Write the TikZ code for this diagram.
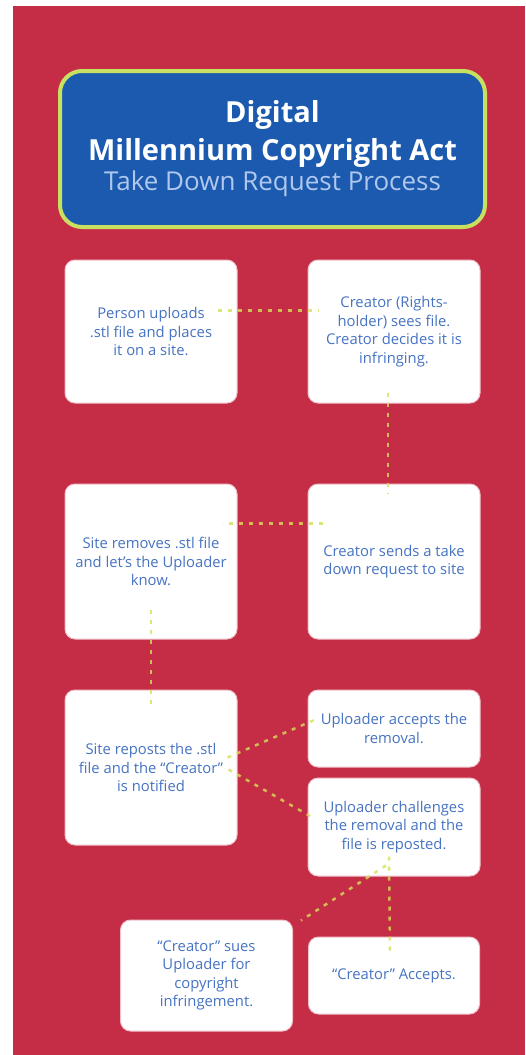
\documentclass[tikz,border=0pt]{standalone}
\usepackage{fontspec}
\setmainfont{Open Sans}
\usetikzlibrary{positioning}
\definecolor{pagered}{RGB}{197,45,70}
\definecolor{titleblue}{RGB}{27,90,174}
\definecolor{titlerim}{RGB}{200,224,96}
\definecolor{titlesub}{RGB}{176,200,238}
\definecolor{linkcolor}{RGB}{212,225,87}
\definecolor{textblue}{RGB}{70,115,195}

\begin{document}
\begin{tikzpicture}[
    x=1pt, y=-1pt,
    stepbox/.style={rectangle, rounded corners=10pt, fill=white, draw=white!70!pagered, line width=1pt,
        minimum width=172pt, align=center, text=textblue, font=\fontsize{14.8}{18.5}\selectfont, inner sep=3pt},
    titlebox/.style={rectangle, rounded corners=22pt, fill=titleblue, draw=titlerim, line width=4pt,
        minimum width=425pt, minimum height=156pt, align=center, text=white,
        font=\bfseries\fontsize{29}{38}\selectfont},
    link/.style={linkcolor, line width=2.5pt, dash pattern=on 4pt off 6pt, opacity=0.8}
]
    % Page
    \useasboundingbox (0,0) rectangle (525,1055);
    \fill[pagered] (13,6) rectangle (525,1055);

    % Title
    \node[titlebox] (title) at (272.5,149)
        {Digital\\Millennium Copyright Act\\[-8pt]
         {\mdseries\color{titlesub}\fontsize{26}{32}\selectfont Take Down Request Process}};

    % Steps
    \node[stepbox, minimum height=143pt] (upload) at (151,331.5) {Person uploads\\.stl file and places\\it on a site.};
    \node[stepbox, minimum height=143pt, right=70pt of upload] (notice) {Creator (Rights-\\holder) sees file.\\Creator decides it is\\infringing.};
    \node[stepbox, minimum height=155pt, below=80pt of upload] (remove) {Site removes .stl file\\and let's the Uploader\\know.};
    \node[stepbox, minimum height=155pt, right=70pt of remove] (request) {Creator sends a take\\down request to site};
    \node[stepbox, minimum height=155pt, below=50pt of remove] (repost) {Site reposts the .stl\\file and the “Creator”\\is notified};
    \node[stepbox, minimum height=77pt, below=50pt of request] (accept) {Uploader accepts the\\removal.};
    \node[stepbox, minimum height=98pt, below=10pt of accept] (challenge) {Uploader challenges\\the removal and the\\file is reposted.};
    \node[stepbox, minimum height=77pt, minimum width=171pt, below=60pt of challenge] (settle) {“Creator” Accepts.};
    \node[stepbox, minimum height=111pt, left=15pt of settle] (sue) {“Creator” sues\\Uploader for\\copyright\\infringement.};

    % Links
    \draw[link] ([xshift=-20pt,yshift=21pt]upload.east) -- ([xshift=11pt,yshift=21pt]notice.west);
    \draw[link] ([xshift=-6pt,yshift=11pt]notice.south) -- ([xshift=-6pt,yshift=-10pt]request.north);
    \draw[link] ([xshift=15pt,yshift=38pt]request.west) -- ([xshift=-15pt,yshift=38pt]remove.east);
    \draw[link] ([yshift=30pt]remove.south) -- ([yshift=-19pt]repost.north);
    \draw[link] ([xshift=-10pt,yshift=10pt]repost.east) -- ([xshift=8pt,yshift=9pt]accept.west);
    \draw[link] ([xshift=-9pt,yshift=-2pt]repost.east) -- ([xshift=6pt,yshift=9pt]challenge.west);
    \draw[link] ([xshift=-5pt,yshift=20pt]challenge.south) -- ([xshift=-4pt,yshift=-17pt]settle.north);
    \draw[link] ([xshift=-8pt,yshift=11pt]challenge.south) -- ([xshift=8pt,yshift=-1pt]sue.north east);
\end{tikzpicture}
\end{document}
